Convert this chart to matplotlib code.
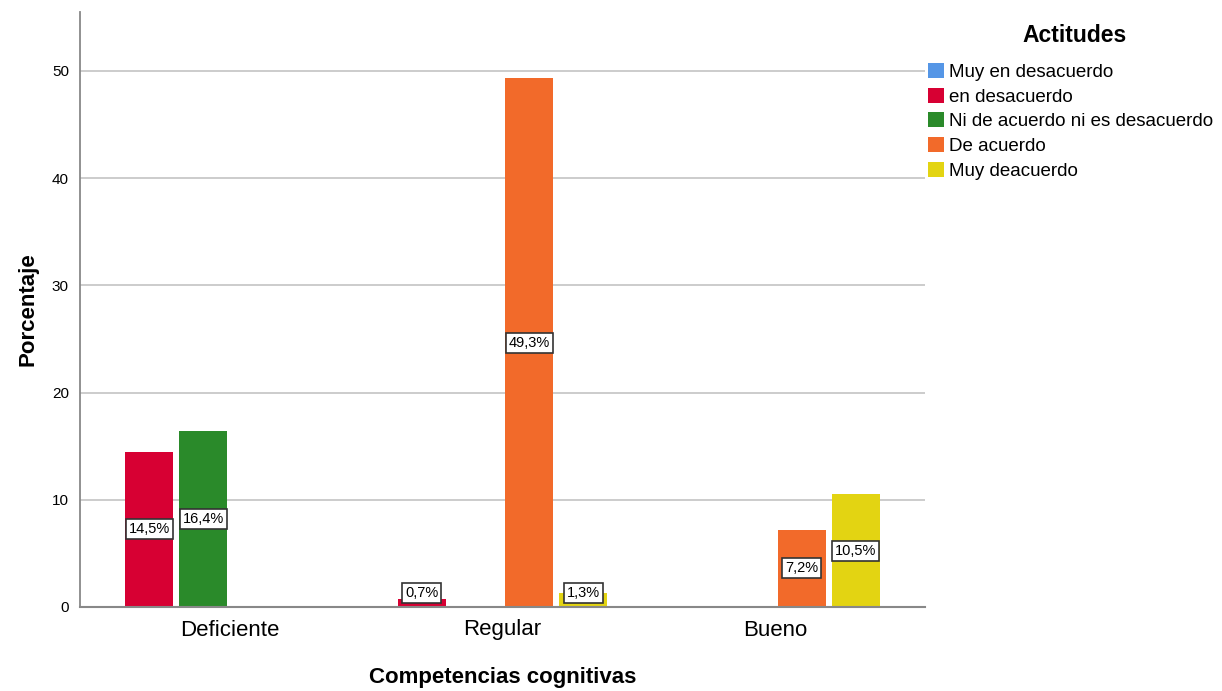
import matplotlib.pyplot as plt
import numpy as np
from matplotlib.patches import Patch

plt.rcParams['font.family'] = ['Liberation Sans', 'DejaVu Sans']

categories = ['Deficiente', 'Regular', 'Bueno']
series = ['Muy en desacuerdo', 'en desacuerdo', 'Ni de acuerdo ni es desacuerdo',
          'De acuerdo', 'Muy deacuerdo']
colors = ['#5596E6', '#D70033', '#2A8A2A', '#F26A2A', '#E3D412']
# percent values per series (None = no bar)
muy_en_desacuerdo = [None, None, None]
en_desacuerdo = [14.5, 0.7, None]
ni_ni = [16.4, None, None]
de_acuerdo = [None, 49.3, 7.2]
muy_deacuerdo = [None, 1.3, 10.5]
values = [muy_en_desacuerdo, en_desacuerdo, ni_ni, de_acuerdo, muy_deacuerdo]

fig = plt.figure(figsize=(12.22, 6.91), dpi=100)
ax = fig.add_axes([80/1222, 1 - 607/691, 845/1222, 595/691])

slot = 0.197
width = 0.176
# the first series never appears, SPSS gives it no slot
slots = [None, -1.5, -0.5, 0.5, 1.5]
x = np.arange(len(categories))
for s, vals in enumerate(values):
    if slots[s] is None:
        continue
    for i, v in enumerate(vals):
        if v is None:
            continue
        xp = x[i] + slots[s] * slot
        ax.bar(xp, v, width=width, color=colors[s], edgecolor='none', zorder=2)
        ax.text(xp, max(v / 2, 1.3), ('%.1f%%' % v).replace('.', ','),
                ha='center', va='center', fontsize=10.5, zorder=3,
                bbox=dict(boxstyle='square,pad=0.2', fc='white', ec='#333333', lw=1.2))

ax.set_xlim(-0.55, 2.55)
ax.set_ylim(0, 55.5)
ax.set_yticks([0, 10, 20, 30, 40, 50])
ax.set_xticks(x)
ax.set_xticklabels(categories, fontsize=16)
ax.tick_params(axis='y', labelsize=11, length=0, pad=8)
ax.tick_params(axis='x', length=0, pad=9)
ax.yaxis.grid(True, color='#C8C8C8', lw=1.3, zorder=0)
ax.set_axisbelow(True)
for side in ['top', 'right']:
    ax.spines[side].set_visible(False)
ax.spines['left'].set_color('#888888')
ax.spines['bottom'].set_color('#888888')
ax.spines['left'].set_linewidth(1.3)
ax.spines['bottom'].set_linewidth(1.5)

ax.set_ylabel('Porcentaje', fontsize=16, fontweight='bold', labelpad=10)
fig.text(503/1222, 1 - 678/691, 'Competencias cognitivas', ha='center',
         va='center', fontsize=16, fontweight='bold')

fig.text(1075/1222, 1 - 35/691, 'Actitudes', ha='center', va='center',
         fontsize=16.5, fontweight='bold')
handles = [Patch(facecolor=c, label=l) for c, l in zip(colors, series)]
leg = fig.legend(handles=handles, loc='upper left',
                 bbox_to_anchor=(928/1222, 1 - 63/691), frameon=False,
                 fontsize=13.5, handlelength=0.85, handleheight=0.85,
                 handletextpad=0.25, labelspacing=0.36, borderaxespad=0,
                 borderpad=0)

fig.savefig('out.png', dpi=100)
